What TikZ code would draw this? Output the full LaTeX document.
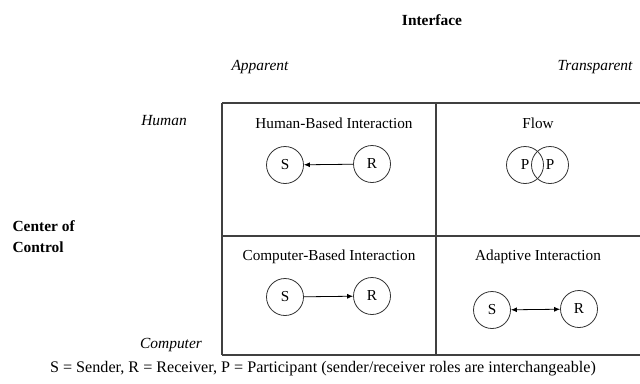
\documentclass[tikz,border=0pt]{standalone}
\usepackage{fontspec}
\setmainfont{Liberation Serif}
\usetikzlibrary{arrows.meta}
\begin{document}
\begin{tikzpicture}[x=1bp,y=-1bp,
  every node/.style={font=\rmfamily\fontsize{15.3}{17}\selectfont},
  circ/.style={draw=black!80, circle, minimum size=37bp, inner sep=0pt, line width=0.8bp},
  grid/.style={draw=black!75, line width=1.2bp},
  conn/.style={line width=0.8bp, -{Latex[length=6bp,width=5bp]}},
  bconn/.style={line width=0.8bp, {Latex[length=6bp,width=5bp]}-{Latex[length=6bp,width=5bp]}},
  lbl/.style={font=\rmfamily\fontsize{15.5}{17}\selectfont\itshape},
  bld/.style={font=\rmfamily\fontsize{15.5}{21}\selectfont\bfseries}
]
\useasboundingbox (0,0) rectangle (640,383);
\fill[white] (0,0) rectangle (640,383);
% grid
\draw[grid] (222,103) -- (640,103);
\draw[grid] (222,236) -- (640,236);
\draw[grid] (222,355) -- (640,355);
\draw[grid] (222,103) -- (222,355);
\draw[grid] (436,103) -- (436,355);
% headers
\node[bld] (iface) at (432,20) {Interface};
\node[lbl] (app) at (260,67) {Apparent};
\node[lbl] (trans) at (595,67) {Transparent};
\node[lbl] (human) at (164,121) {Human};
\node[lbl] (comp) at (171,345) {Computer};
\node[bld, align=left, anchor=west] (coc) at (9,237) {Center of\\Control};
% quadrant titles
\node (t1) at (334,123) {Human-Based Interaction};
\node (t2) at (538,123) {Flow};
\node (t3) at (329,257) {Computer-Based Interaction};
\node (t4) at (538,257) {Adaptive Interaction};
% circles
\node[circ] (s1) at (285,165) {S};
\node[circ] (r1) at (372,164) {R};
\draw[conn] (r1) -- (s1);
\node[circ] (p1) at (525,165) {P};
\node[circ] (p2) at (550,165) {P};
\node[circ] (s3) at (285,297) {S};
\node[circ] (r3) at (372,296) {R};
\draw[conn] (s3) -- (r3);
\node[circ] (s4) at (492,310) {S};
\node[circ] (r4) at (579,309) {R};
\draw[bconn] (s4) -- (r4);
% caption
\node[font=\rmfamily\fontsize{16.2}{18}\selectfont] (cap) at (323,369) {S = Sender, R = Receiver, P = Participant (sender/receiver roles are interchangeable)};
\end{tikzpicture}
\end{document}
